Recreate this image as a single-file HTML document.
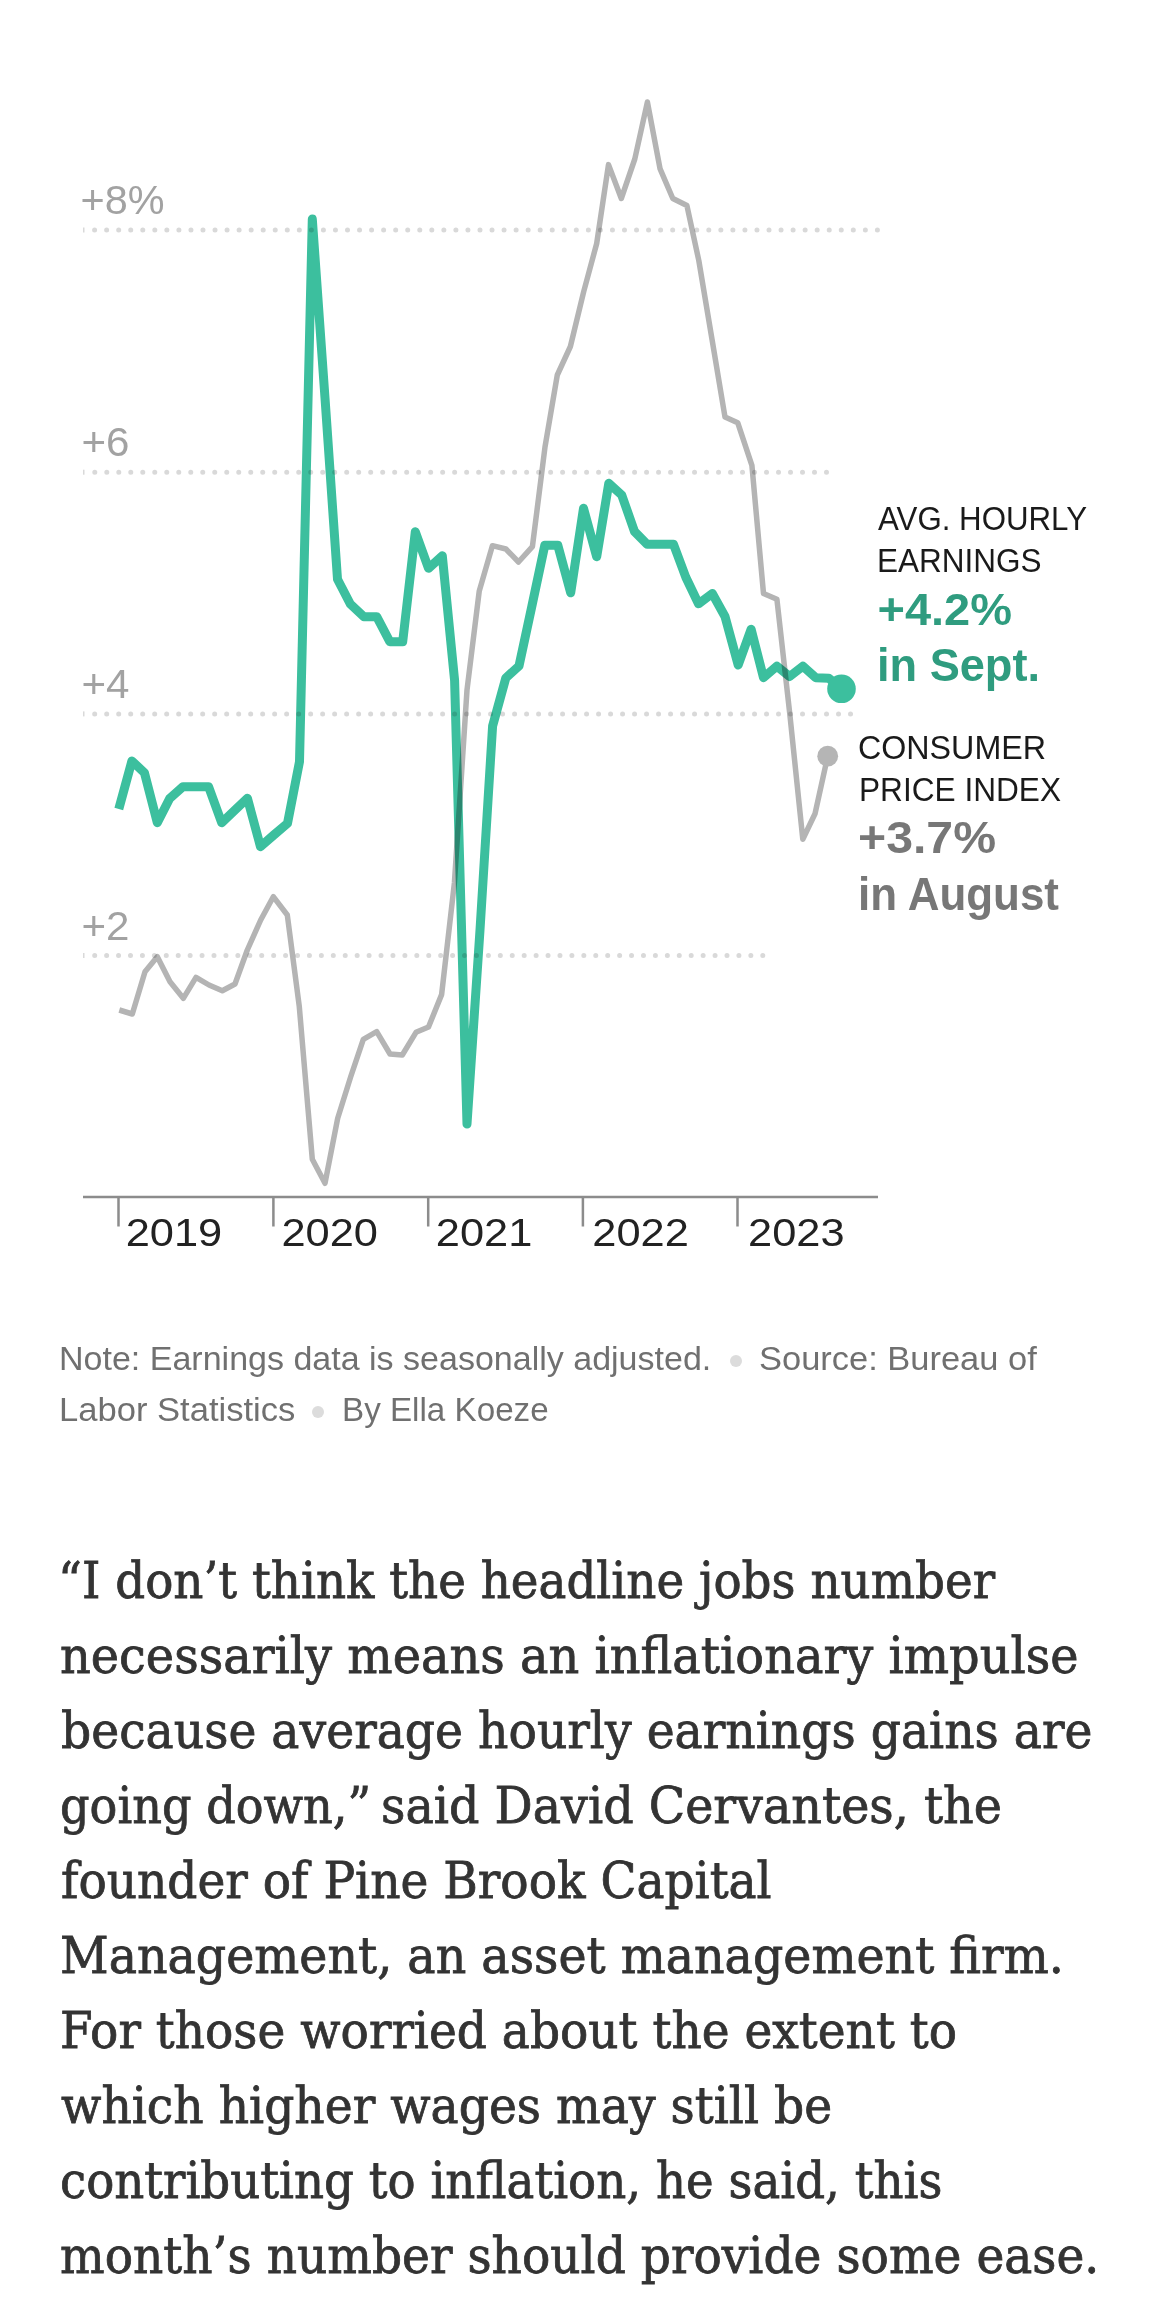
<!DOCTYPE html>
<html lang="en"><head><meta charset="utf-8"><title>Chart</title>
<style>
html,body{margin:0;padding:0;background:#fff;}
body{width:1170px;height:2314px;position:relative;overflow:hidden;font-family:"Liberation Sans",sans-serif;}
svg{position:absolute;left:0;top:0;}
.ax{font-family:"Liberation Sans",sans-serif;}
.ln{position:absolute;white-space:nowrap;transform-origin:0 0;}
.body{font-family:"DejaVu Serif","Liberation Serif",serif;color:#333;-webkit-text-stroke:0.8px #333;}
.note{font-family:"Liberation Sans",sans-serif;color:#707070;}
</style></head><body>
<svg width="1170" height="1300" viewBox="0 0 1170 1300">
<g stroke="#d9d9d9" stroke-width="5" stroke-linecap="round" fill="none">
<path d="M94.6 230H878" stroke-dasharray="0 12.043"/>
<path d="M94.8 472.2H827.5" stroke-dasharray="0 11.995"/>
<path d="M94.7 713.9H851" stroke-dasharray="0 11.997"/>
<path d="M94.7 955.5H763.5" stroke-dasharray="0 11.93"/>
</g>
<g fill="#d9d9d9"><rect x="83" y="227.5" width="1.5" height="5"/><rect x="83" y="469.7" width="1.5" height="5"/><rect x="83" y="711.4" width="1.5" height="5"/><rect x="83" y="953" width="1.5" height="5"/></g>
<g class="ax" fill="#a2a2a2" font-size="40">
<text x="80.5" y="214.4" textLength="84" lengthAdjust="spacingAndGlyphs">+8%</text>
<text x="81.5" y="456" textLength="48" lengthAdjust="spacingAndGlyphs">+6</text>
<text x="81.5" y="698" textLength="48" lengthAdjust="spacingAndGlyphs">+4</text>
<text x="81.5" y="940" textLength="48" lengthAdjust="spacingAndGlyphs">+2</text>
</g>
<g>
<polyline points="119.3,1010.0 132.3,1014.0 145.0,971.7 157.3,956.7 170.0,981.7 183.3,998.3 196.0,977.3 209.0,985.0 222.3,990.7 235.0,984.0 247.3,950.0 260.7,920.0 273.3,896.7 287.3,915.0 299.3,1006.7 312.3,1159.3 325.0,1183.3 337.7,1118.3 350.7,1076.7 363.3,1039.3 376.7,1031.7 390.0,1054.0 402.3,1055.0 416.0,1032.3 428.5,1027.0 441.6,994.6 454.4,883.0 467.0,690.0 479.2,591.3 492.4,545.7 505.9,549.0 518.5,562.0 532.4,546.7 545.0,447.0 557.3,375.0 570.4,346.5 583.7,291.6 596.7,243.5 608.5,164.6 621.3,198.5 634.8,159.0 647.4,102.0 660.1,168.9 672.8,198.5 686.9,205.5 698.8,260.5 712.0,339.3 725.0,417.1 737.7,422.7 751.9,465.3 763.5,593.5 776.9,599.2 789.8,714.0 802.8,839.2 815.0,813.8 827.7,756.2" fill="none" stroke="#b4b4b4" stroke-width="5.5" stroke-linejoin="round" stroke-linecap="butt" style="mix-blend-mode:multiply"/>
<circle cx="827.7" cy="756.2" r="10.4" fill="#b5b5b5"/>
<polyline points="118.8,809.0 131.9,761.0 144.4,772.7 157.3,822.7 169.8,798.3 183.0,786.7 195.8,786.7 208.6,786.7 221.7,822.7 234.5,810.4 247.4,798.3 260.5,846.7 273.8,835.0 287.5,823.3 299.5,761.7 312.3,219.0 325.0,398.0 337.5,579.3 350.3,604.0 363.9,616.7 376.7,616.7 389.8,641.7 402.7,641.7 415.3,531.7 428.5,568.3 442.3,555.8 454.6,680.5 467.0,1124.0 480.0,930.0 492.6,726.0 505.8,678.0 519.0,666.0 531.9,606.0 544.8,545.3 557.8,545.3 570.7,592.8 583.5,508.3 596.7,556.7 608.8,483.3 621.7,495.0 634.5,531.5 647.2,544.3 660.4,544.3 673.5,544.3 685.8,577.3 698.5,603.8 712.3,593.5 725.0,616.5 738.2,665.0 751.1,629.2 763.5,677.7 776.9,666.2 789.6,676.5 802.8,666.2 815.7,677.7 828.8,678.2 841.5,688.8" fill="none" stroke="#3cbf9e" stroke-width="9" stroke-linejoin="round" stroke-linecap="butt" style="mix-blend-mode:multiply"/>
<circle cx="841.5" cy="688.8" r="14.3" fill="#3cbf9e"/>
</g>
<g stroke="#8c8c8c" stroke-width="2.5" fill="none">
<path d="M83 1197H878"/>
<path d="M118.5 1197V1226.5M273.4 1197V1226.5M428.2 1197V1226.5M582.9 1197V1226.5M737.5 1197V1226.5"/>
</g>
<g class="ax" fill="#222" font-size="39">
<text x="125.7" y="1246" textLength="96.5" lengthAdjust="spacingAndGlyphs">2019</text>
<text x="281.5" y="1246" textLength="96.5" lengthAdjust="spacingAndGlyphs">2020</text>
<text x="435.8" y="1246" textLength="96.5" lengthAdjust="spacingAndGlyphs">2021</text>
<text x="592.3" y="1246" textLength="96.5" lengthAdjust="spacingAndGlyphs">2022</text>
<text x="748.1" y="1246" textLength="96.5" lengthAdjust="spacingAndGlyphs">2023</text>
</g>
<g class="ax" fill="#1a1a1a" font-size="34">
<text x="878" y="530.4" textLength="209" lengthAdjust="spacingAndGlyphs">AVG. HOURLY</text>
<text x="877" y="572.3" textLength="164.5" lengthAdjust="spacingAndGlyphs">EARNINGS</text>
<text x="858" y="759" textLength="188" lengthAdjust="spacingAndGlyphs">CONSUMER</text>
<text x="859" y="801" textLength="202" lengthAdjust="spacingAndGlyphs">PRICE INDEX</text>
</g>
<g class="ax" font-size="46" font-weight="bold">
<text x="877.5" y="624.6" font-size="45" fill="#2f9c7f" textLength="134.5" lengthAdjust="spacingAndGlyphs">+4.2%</text>
<text x="877" y="681.3" fill="#2f9c7f" textLength="163" lengthAdjust="spacingAndGlyphs">in Sept.</text>
<text x="858" y="852.7" font-size="45" fill="#777" textLength="138" lengthAdjust="spacingAndGlyphs">+3.7%</text>
<text x="858" y="909.5" fill="#777" textLength="201" lengthAdjust="spacingAndGlyphs">in August</text>
</g>
</svg>
<div style="position:absolute;left:730.3px;top:1354.6px;width:12px;height:12px;border-radius:6px;background:#dcdcdc"></div><div style="position:absolute;left:312.3px;top:1406.3px;width:12px;height:12px;border-radius:6px;background:#dcdcdc"></div>
<div class="ln body" id="b0" style="left:58.30px;top:1555.65px;font-size:50px;line-height:50px;transform:scaleX(0.9355)">“I don’t think the headline jobs number</div>
<div class="ln body" id="b1" style="left:59.85px;top:1630.95px;font-size:50px;line-height:50px;transform:scaleX(0.9560)">necessarily means an inflationary impulse</div>
<div class="ln body" id="b2" style="left:60.86px;top:1705.95px;font-size:50px;line-height:50px;transform:scaleX(0.9444)">because average hourly earnings gains are</div>
<div class="ln body" id="b3a" style="left:60.11px;top:1780.95px;font-size:50px;line-height:50px;transform:scaleX(0.9240)">going down,”</div>
<div class="ln body" id="b3b" style="left:380.87px;top:1780.95px;font-size:50px;line-height:50px;transform:scaleX(0.9517)">said David Cervantes, the</div>
<div class="ln body" id="b4" style="left:61.10px;top:1855.95px;font-size:50px;line-height:50px;transform:scaleX(0.9410)">founder of Pine Brook Capital</div>
<div class="ln body" id="b5" style="left:60.10px;top:1930.95px;font-size:50px;line-height:50px;transform:scaleX(0.9498)">Management, an asset management firm.</div>
<div class="ln body" id="b6" style="left:60.16px;top:2005.95px;font-size:50px;line-height:50px;transform:scaleX(0.9409)">For those worried about the extent to</div>
<div class="ln body" id="b7" style="left:61.03px;top:2080.95px;font-size:50px;line-height:50px;transform:scaleX(0.9436)">which higher wages may still be</div>
<div class="ln body" id="b8" style="left:60.13px;top:2155.95px;font-size:50px;line-height:50px;transform:scaleX(0.9336)">contributing to inflation, he said, this</div>
<div class="ln body" id="b9" style="left:60.10px;top:2230.95px;font-size:50px;line-height:50px;transform:scaleX(0.9417)">month’s number should provide some ease.</div>
<div class="ln note" id="n0" style="left:59.11px;top:1341.87px;font-size:33px;line-height:33px;transform:scaleX(1.0306)">Note: Earnings data is seasonally adjusted.</div>
<div class="ln note" id="n1" style="left:758.70px;top:1341.87px;font-size:33px;line-height:33px;transform:scaleX(1.0441)">Source: Bureau of</div>
<div class="ln note" id="n2" style="left:59.07px;top:1392.67px;font-size:33px;line-height:33px;transform:scaleX(1.0475)">Labor Statistics</div>
<div class="ln note" id="n3" style="left:341.61px;top:1392.67px;font-size:33px;line-height:33px;transform:scaleX(1.0060)">By Ella Koeze</div>
</body></html>
